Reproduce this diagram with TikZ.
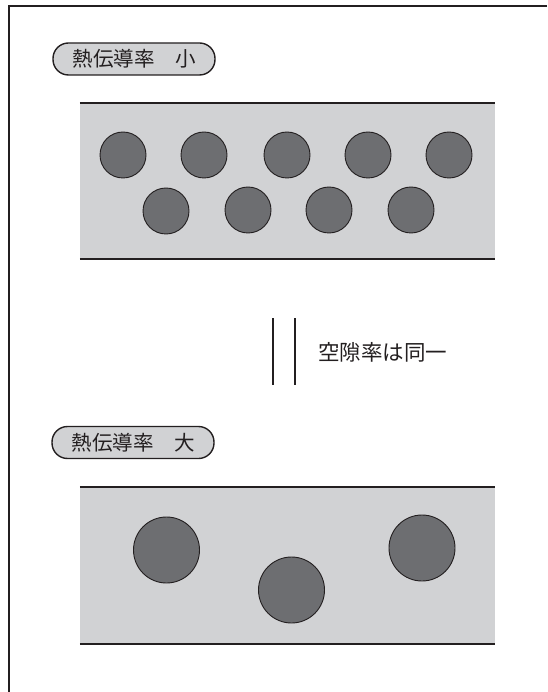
\documentclass[tikz,border=0pt]{standalone}
\usepackage{fontspec}
\newfontfamily\jp{Noto Sans CJK JP}
\definecolor{bandgray}{HTML}{D1D2D4}
\definecolor{poregray}{HTML}{6D6E71}
\definecolor{inkdark}{HTML}{231F20}
\tikzset{
  pill/.style={draw=inkdark, line width=1.4pt, fill=bandgray, rounded corners=15.5pt,
    minimum width=162pt, minimum height=32pt, inner sep=0pt, font=\jp\fontsize{20.5pt}{22pt}\selectfont, text=inkdark},
  band/.style={fill=bandgray, draw=none, minimum width=415pt, minimum height=156pt, inner sep=0pt},
  edge/.style={draw=inkdark, line width=2pt},
  smallpore/.style={circle, fill=poregray, draw=inkdark, line width=0.9pt, minimum size=46pt, inner sep=0pt},
  bigpore/.style={circle, fill=poregray, draw=inkdark, line width=0.9pt, minimum size=66pt, inner sep=0pt},
  equalbar/.style={draw=inkdark, line width=1.6pt},
  note/.style={font=\jp\fontsize{21.5pt}{24pt}\selectfont, text=inkdark, inner sep=0pt}
}
\begin{document}
\begin{tikzpicture}[x=1pt, y=-1pt]
\useasboundingbox (0,0) rectangle (547,692);
% frame
\coordinate (fTR) at (547,6);
\coordinate (fTL) at (9,6);
\coordinate (fBL) at (9,692);
\draw[inkdark, line width=2.2pt] (fTR) -- (fTL) -- (fBL);

% upper label and band
\node[pill] (lab1) at (134,59) {熱伝導率　小};
\node[band] (band1) at (287.5,181) {};
\draw[edge] (band1.north west) -- (band1.north east);
\draw[edge] (band1.south west) -- (band1.south east);
\node[smallpore] (p1) at (123,155) {};
\node[smallpore] (p2) at (204,155) {};
\node[smallpore] (p3) at (287,155) {};
\node[smallpore] (p4) at (368,155) {};
\node[smallpore] (p5) at (449,155) {};
\node[smallpore] (p6) at (166,211) {};
\node[smallpore] (p7) at (248,210) {};
\node[smallpore] (p8) at (329,210) {};
\node[smallpore] (p9) at (411,210) {};

% equality mark
\coordinate (e1t) at (273,318);
\coordinate (e1b) at (273,385);
\coordinate (e2t) at (295,318);
\coordinate (e2b) at (295,385);
\draw[equalbar] (e1t) -- (e1b);
\draw[equalbar] (e2t) -- (e2b);
\node[note, anchor=west] (same) at (318,352) {空隙率は同一};

% lower label and band
\node[pill] (lab2) at (133,442.5) {熱伝導率　大};
\node[band] (band2) at (287.5,565.5) {};
\draw[edge] (band2.north west) -- (band2.north east);
\draw[edge] (band2.south west) -- (band2.south east);
\node[bigpore] (q1) at (166.5,550) {};
\node[bigpore] (q2) at (291.5,590) {};
\node[bigpore] (q3) at (422,548) {};
\end{tikzpicture}
\end{document}
